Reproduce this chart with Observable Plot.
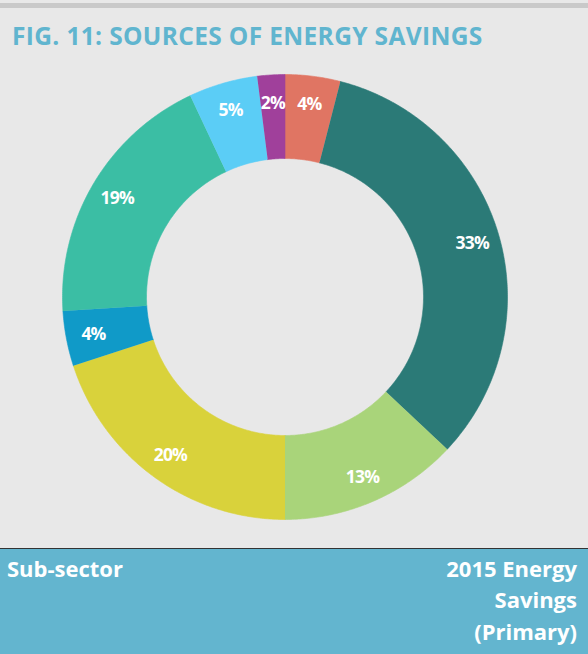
<!DOCTYPE html>
<html><head><meta charset="utf-8">
<script src="https://cdn.jsdelivr.net/npm/d3@7"></script>
<script src="https://cdn.jsdelivr.net/npm/@observablehq/plot@0.6"></script>
<style>
html,body{margin:0;padding:0;}
body{width:588px;height:654px;background:#e8e8e8;position:relative;overflow:hidden;font-family:"Open Sans",sans-serif;}
#topbar{position:absolute;left:0;top:3px;width:588px;height:5px;background:#c9c9c9;}
#title{position:absolute;left:12px;top:19px;font-size:24.5px;line-height:normal;font-weight:700;color:#60b5cf;letter-spacing:0.35px;white-space:nowrap;}
#chart{position:absolute;left:0;top:0;}
#band{position:absolute;left:0;top:548px;width:588px;height:106px;background:#63b5cf;border-top:1px solid #333;color:#fff;font-weight:700;font-size:22px;line-height:31.5px;}
#left{position:absolute;left:7px;top:3.7px;}
#right{position:absolute;right:11px;top:3.7px;text-align:right;}
</style></head>
<body>
<div id="topbar"></div>
<div id="chart"></div>
<div id="title">FIG. 11: SOURCES OF ENERGY SAVINGS</div>
<div id="band"><div id="left">Sub-sector</div><div id="right">2015 Energy<br>Savings<br>(Primary)</div></div>
<script>
const categories = ["Sub-sector 1","Sub-sector 2","Sub-sector 3","Sub-sector 4","Sub-sector 5","Sub-sector 6","Sub-sector 7","Sub-sector 8"];
const shares = [4, 33, 13, 20, 4, 19, 5, 2];
const labels = ["4%","33%","13%","20%","4%","19%","5%","2%"];
const colors = ["#e07563","#2b7a77","#a9d47a","#d9d23b","#109ac8","#3bbea4","#5bcdf6","#a0409b"];

const R_OUT = 222.5, R_IN = 138.5, R_LABEL = 195;
const total = d3.sum(shares);
let cum = 0;
const slices = shares.map((v, i) => {
  const a0 = cum / total * 2 * Math.PI; cum += v;
  const a1 = cum / total * 2 * Math.PI;
  return {category: categories[i], value: v, label: labels[i], a0, a1};
});
const poly = [];
for (const s of slices) {
  const n = Math.max(2, Math.ceil((s.a1 - s.a0) / (Math.PI / 360)));
  for (let k = 0; k <= n; k++) {
    const a = s.a0 + (s.a1 - s.a0) * k / n;
    poly.push({category: s.category, x: R_OUT * Math.sin(a), y: R_OUT * Math.cos(a)});
  }
  for (let k = n; k >= 0; k--) {
    const a = s.a0 + (s.a1 - s.a0) * k / n;
    poly.push({category: s.category, x: R_IN * Math.sin(a), y: R_IN * Math.cos(a)});
  }
}
const labelPts = slices.map(s => {
  const a = (s.a0 + s.a1) / 2;
  return {label: s.label, x: R_LABEL * Math.sin(a), y: R_LABEL * Math.cos(a)};
});

const chart = Plot.plot({
  width: 588, height: 548,
  margin: 0,
  x: {domain: [-284.5, 303.5], axis: null},
  y: {domain: [-251.5, 296.5], axis: null},
  color: {domain: categories, range: colors},
  style: {background: "transparent"},
  marks: [
    Plot.line(poly, {x: "x", y: "y", z: "category", fill: "category", stroke: "category", strokeWidth: 0.6, curve: "linear"}),
    Plot.text(labelPts, {x: "x", y: "y", text: "label", fill: "white", fontSize: 17.5, fontWeight: 700, fontFamily: "Open Sans", letterSpacing: "-0.8px", dy: 1})
  ]
});
chart.querySelectorAll("text").forEach(t => t.setAttribute("letter-spacing", "-0.8"));
document.getElementById("chart").appendChild(chart);
</script>
</body></html>
